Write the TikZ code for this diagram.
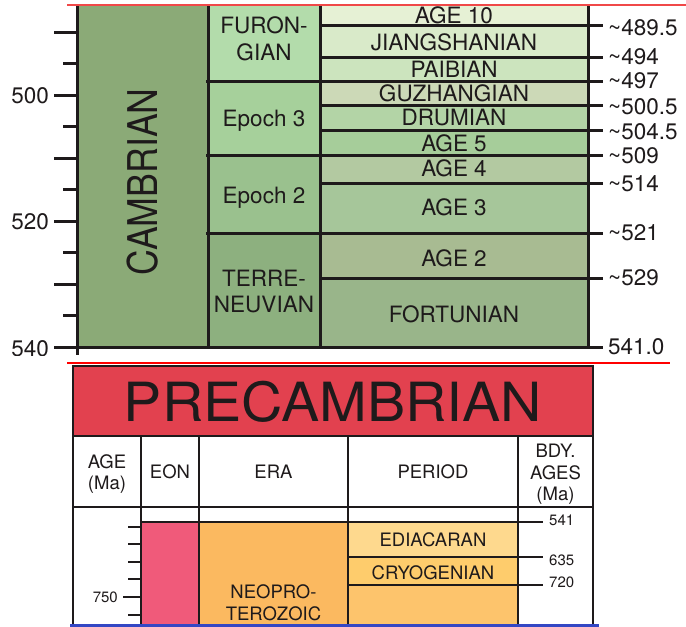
\documentclass[tikz,border=0pt]{standalone}
\usepackage{fontspec}
\setmainfont{TeX Gyre Heros}
\definecolor{ink}{HTML}{1E1A1B}
\definecolor{cambr}{HTML}{8BAA77}
\definecolor{furong}{HTML}{B3DCAB}
\definecolor{epthree}{HTML}{A6D09B}
\definecolor{eptwo}{HTML}{9AC18E}
\definecolor{terre}{HTML}{8DB07F}
\definecolor{agten}{HTML}{E6F1D5}
\definecolor{jiang}{HTML}{D9EAC9}
\definecolor{paib}{HTML}{CCE4BE}
\definecolor{guzh}{HTML}{CCD9B7}
\definecolor{drum}{HTML}{B3D4A6}
\definecolor{agfive}{HTML}{A6CD9A}
\definecolor{agfour}{HTML}{B3C9A1}
\definecolor{agthree}{HTML}{A6C69A}
\definecolor{agtwo}{HTML}{A8BB92}
\definecolor{fortu}{HTML}{99B58A}
\definecolor{precam}{HTML}{E2414F}
\definecolor{proter}{HTML}{F05A7A}
\definecolor{neopro}{HTML}{FBB960}
\definecolor{ediac}{HTML}{FED98E}
\definecolor{cryog}{HTML}{FECC6C}
\definecolor{tonian}{HTML}{FDC46C}
\definecolor{redline}{HTML}{F04848}
\definecolor{blueline}{HTML}{3447C4}
\begin{document}
\begin{tikzpicture}[x=1pt,y=-1pt,
  heavy/.style={draw=ink, line width=3pt},
  lite/.style={draw=ink, line width=2.2pt},
  big/.style={inner sep=0pt, text=ink, font=\fontsize{22.5}{26}\selectfont, text height=16.2pt, text depth=0pt},
  head/.style={inner sep=0pt, text=ink, font=\fontsize{18.5}{20}\selectfont, text height=13.3pt, text depth=0pt},
  per/.style={inner sep=0pt, text=ink, font=\fontsize{18.5}{20}\selectfont, text height=13.3pt, text depth=0pt},
  small/.style={inner sep=0pt, text=ink, font=\fontsize{15}{17}\selectfont, text height=10.8pt, text depth=0pt},
]
\useasboundingbox (0,0) rectangle (686,627);

% ---------------- Cambrian part ----------------
\begin{scope}
\clip (0,0) rectangle (686,355);
% fills
\fill[cambr] (77,5) rectangle (208,347);
\fill[furong] (208,5) rectangle (320,81);
\fill[epthree] (208,81) rectangle (320,155);
\fill[eptwo] (208,155) rectangle (320,233);
\fill[terre] (208,233) rectangle (320,347);
\fill[agten] (320,5) rectangle (588,25);
\fill[jiang] (320,25) rectangle (588,57);
\fill[paib] (320,57) rectangle (588,81);
\fill[guzh] (320,81) rectangle (588,105);
\fill[drum] (320,105) rectangle (588,130);
\fill[agfive] (320,130) rectangle (588,155);
\fill[agfour] (320,155) rectangle (588,183);
\fill[agthree] (320,183) rectangle (588,233);
\fill[agtwo] (320,233) rectangle (588,278);
\fill[fortu] (320,278) rectangle (588,347);
% boundaries
\foreach \yy in {25,57,81,105,130,155,183,233,278}
  \draw[heavy] (320,\yy) -- (603,\yy);
\foreach \yy in {81,155,233}
  \draw[heavy] (206,\yy) -- (320,\yy);
\draw[heavy] (77,347) -- (603,347);
\draw[heavy] (77,5) -- (77,355);
\foreach \xx in {208,320,588}
  \draw[heavy] (\xx,5) -- (\xx,347);
% left ticks
\foreach \yy in {32,95,158,221,284,347}
  \draw[heavy] (54,\yy) -- (77,\yy);
\foreach \yy in {63,126.5,189.5,252.5,315.5}
  \draw[heavy] (63,\yy) -- (77,\yy);
\node[big, anchor=east] (l500) at (49,95) {500};
\node[big, anchor=east] (l520) at (49,221) {520};
\node[big, anchor=east] (l540) at (49,348) {540};
\end{scope}

\node[inner sep=0pt, text=ink, font=\fontsize{41}{41}\selectfont, text height=29.5pt, text depth=0pt, rotate=90]
  (cambrian) at (142.5,182) {\scalebox{0.87}[1]{CAMBRIAN}};

% epochs
\node[big] (fur1) at (264,25) {FURON-};
\node[big] (fur2) at (264,52) {GIAN};
\node[big] (ep3) at (264,118) {Epoch 3};
\node[big] (ep2) at (264,195) {Epoch 2};
\node[big] (ter1) at (264,278) {TERRE-};
\node[big] (ter2) at (264,304) {NEUVIAN};

% ages
\node[big] (a10) at (454,15) {AGE 10};
\node[big] (jia) at (454,42) {JIANGSHANIAN};
\node[big] (pai) at (454,69.5) {PAIBIAN};
\node[big] (guz) at (454,93) {GUZHANGIAN};
\node[big] (dru) at (454,117.5) {DRUMIAN};
\node[big] (a5) at (454,143) {AGE 5};
\node[big] (a4) at (454,168) {AGE 4};
\node[big] (a3) at (454,207) {AGE 3};
\node[big] (a2) at (454,258) {AGE 2};
\node[big] (fort) at (454,314) {FORTUNIAN};

% boundary ages
\node[big, anchor=west] (b1) at (608,27) {\textasciitilde489.5};
\node[big, anchor=west] (b2) at (608,56) {\textasciitilde494};
\node[big, anchor=west] (b3) at (608,80) {\textasciitilde497};
\node[big, anchor=west] (b4) at (608,106) {\textasciitilde500.5};
\node[big, anchor=west] (b5) at (608,131) {\textasciitilde504.5};
\node[big, anchor=west] (b6) at (608,155) {\textasciitilde509};
\node[big, anchor=west] (b7) at (608,183) {\textasciitilde514};
\node[big, anchor=west] (b8) at (608,232) {\textasciitilde521};
\node[big, anchor=west] (b9) at (608,277) {\textasciitilde529};
\node[big, anchor=west] (b10) at (608,346) {541.0};

\draw[redline, line width=1.8pt] (67,5) -- (686,5);

% ---------------- Precambrian part ----------------
\draw[red, line width=1.2pt] (67,363) -- (670,363);

\fill[precam] (73,366) rectangle (593,436);
\fill[white] (73,436) rectangle (593,627);
\fill[proter] (141,522) rectangle (199,627);
\fill[neopro] (199,522) rectangle (348,627);
\fill[ediac] (348,522) rectangle (518,557);
\fill[cryog] (348,557) rectangle (518,585);
\fill[tonian] (348,585) rectangle (518,627);

\draw[lite] (73,366) rectangle (593,436);
\draw[lite] (73,436) -- (73,624);
\draw[lite] (593,436) -- (593,624);
\foreach \xx in {141,199,348,518}
  \draw[lite] (\xx,436) -- (\xx,624);
\draw[ink, line width=2.8pt] (73,507) -- (593,507);
\draw[lite] (141,522) -- (543,522);
\draw[lite] (348,557) -- (543,557);
\draw[lite] (348,585) -- (543,585);

% age ticks
\foreach \yy in {527,544,562,579,615}
  \draw[lite] (128,\yy) -- (141,\yy);
\draw[lite] (123,597) -- (141,597);

\node[precam, inner sep=0pt, text=ink, font=\fontsize{54}{54}\selectfont, text height=38.8pt, text depth=0pt]
  (pre) at (333,402) {\scalebox{1.06}[1]{PRECAMBRIAN}};

\node[head] (h1a) at (107,462) {AGE};
\node[head] (h1b) at (107,482.5) {(Ma)};
\node[head] (h2) at (170,471.5) {EON};
\node[head] (h3) at (273.5,471.5) {ERA};
\node[head] (h4) at (433,471.5) {PERIOD};
\node[head] (h5a) at (555.5,451) {BDY.};
\node[head] (h5b) at (555.5,472.5) {AGES};
\node[head] (h5c) at (555.5,493.5) {(Ma)};

\node[per] (edi) at (433,539.5) {EDIACARAN};
\node[per] (cry) at (433,573) {CRYOGENIAN};
\node[per] (neo1) at (273.5,592) {NEOPRO-};
\node[per] (neo2) at (273.5,613.5) {TEROZOIC};

\node[small, anchor=west] (p541) at (549,520.5) {541};
\node[small, anchor=west] (p635) at (549,560) {635};
\node[small, anchor=west] (p720) at (549,582) {720};
\node[small, anchor=east] (p750) at (118,597) {750};

\draw[blueline, line width=3pt] (70,625.3) -- (599,625.3);
\end{tikzpicture}
\end{document}
